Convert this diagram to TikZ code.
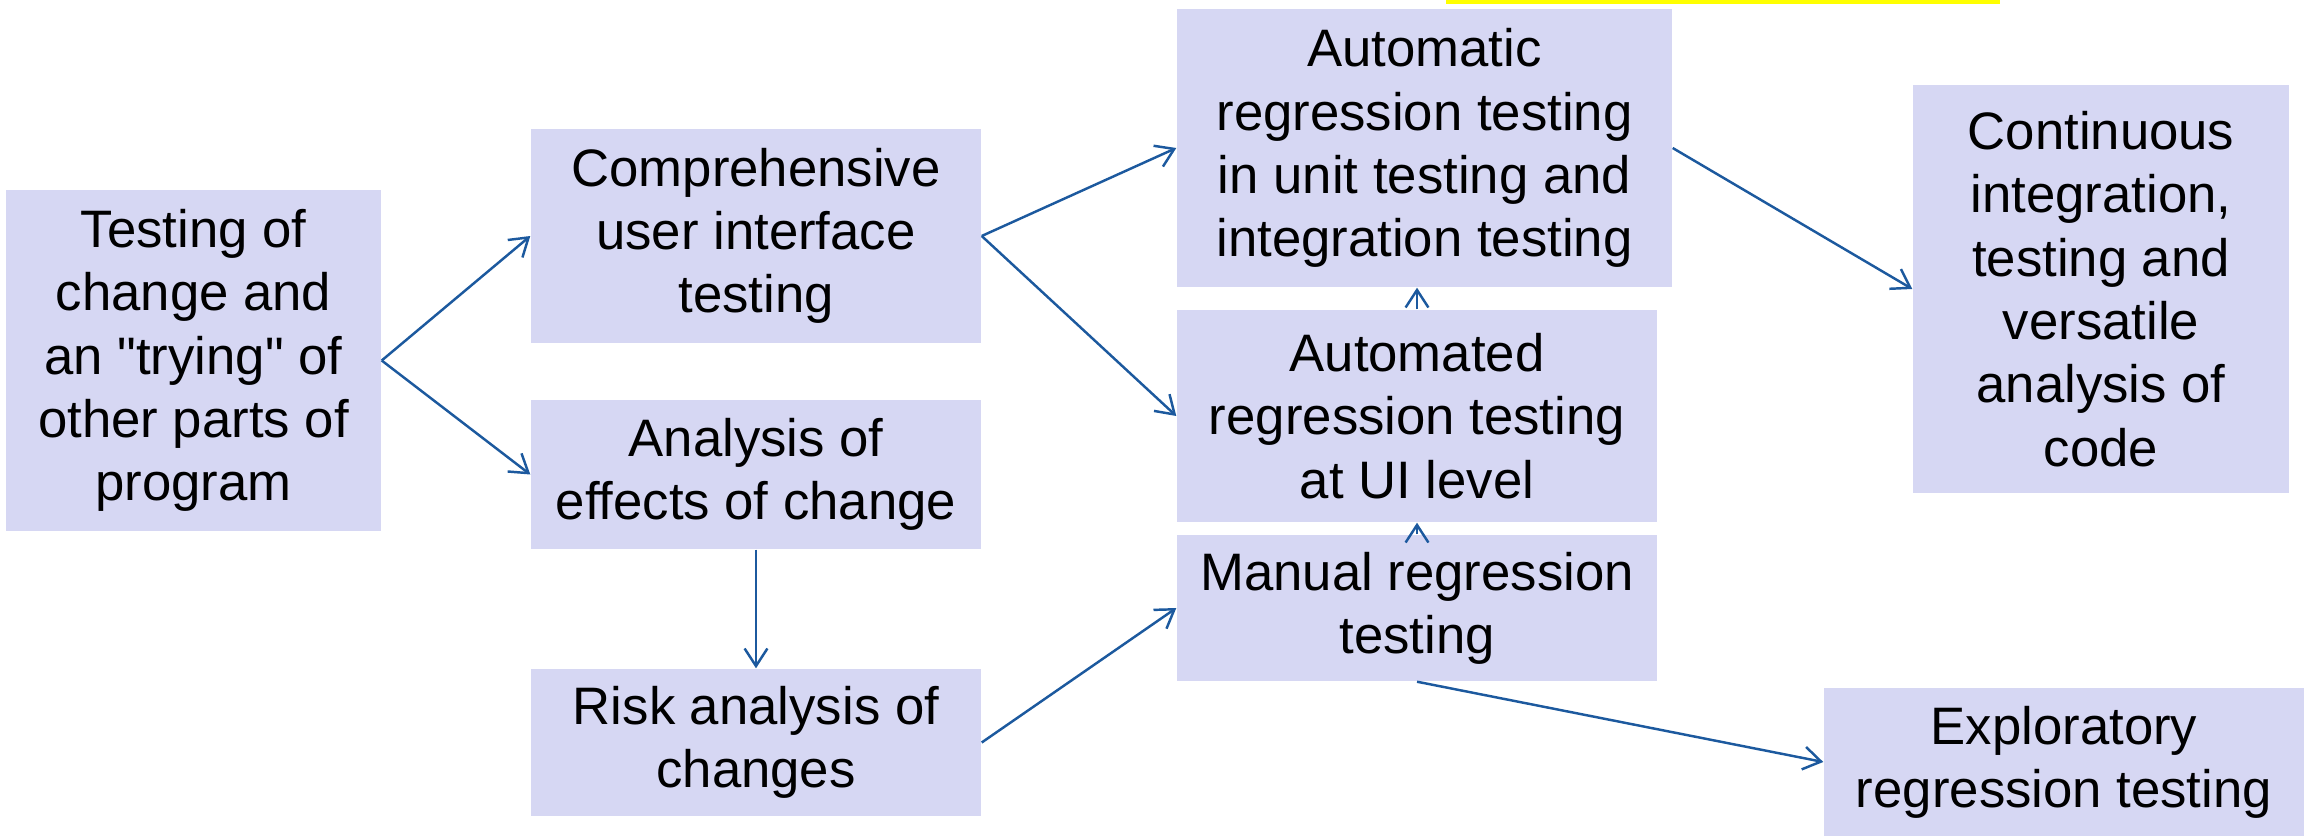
\documentclass[tikz,border=0pt]{standalone}
\usepackage{fontspec}
\setmainfont{Liberation Sans}[Ligatures=TeXOff]
\usepackage{xcolor}
\usepackage{tikz}
\usetikzlibrary{arrows.meta, positioning}

\definecolor{caixa}{RGB}{214,215,243}
\definecolor{seta}{RGB}{28,89,158}
\definecolor{marca}{RGB}{255,255,0}

\begin{document}
\begin{tikzpicture}[
    box/.style={rectangle, fill=caixa, inner sep=0pt, align=center, font=\fontsize{15}{18}\selectfont},
    flow/.style={draw=seta, line width=0.7pt, -{Straight Barb[length=5pt, width=6.5pt]}}
]
        \useasboundingbox (0,0) rectangle (23.06,8.36);
        % faixa amarela
        \fill[marca] (14.46,8.32) rectangle (20.00,8.36);

        % Coluna 1 e 2
        \node[box, minimum width=3.75cm, minimum height=3.41cm] (tc) at (1.935,4.755) {Testing of\\change and\\an "trying" of\\other parts of\\program};
        \node[box, minimum width=4.50cm, minimum height=2.14cm] (ui) at (7.56,6.00) {Comprehensive\\user interface\\testing};
        \node[box, minimum width=4.50cm, minimum height=1.49cm] (eff) at (7.56,3.615) {Analysis of\\effects of change};
        \node[box, minimum width=4.50cm, minimum height=1.47cm] (risk) at (7.56,0.935) {Risk analysis of\\changes};

        % Coluna 3
        \node[box, minimum width=4.95cm, minimum height=2.78cm] (unit) at (14.245,6.88) {Automatic\\regression testing\\in unit testing and\\integration testing};
        \node[box, minimum width=4.80cm, minimum height=2.12cm] (auto) at (14.17,4.20) {Automated\\regression testing\\at UI level};
        \node[box, minimum width=4.80cm, minimum height=1.46cm] (man) at (14.17,2.28) {Manual regression\\testing};

        % Coluna 4
        \node[box, minimum width=3.76cm, minimum height=4.08cm] (ci) at (21.01,5.47) {Continuous\\integration,\\testing and\\versatile\\analysis of\\code};
        \node[box, minimum width=4.80cm, minimum height=1.48cm] (expl) at (20.64,0.74) {Exploratory\\regression testing};

        % Setas
        \draw[flow] (tc.east) -- (ui.west);
        \draw[flow] (tc.east) -- (eff.west);
        \draw[flow] (eff.south) -- (risk.north);
        \draw[flow] (ui.east) -- (unit.west);
        \draw[flow] (ui.east) -- (auto.west);
        \draw[flow] (risk.east) -- (man.west);
        \draw[flow] (auto.north) -- (auto.north |- unit.south);
        \draw[flow] (man.north) -- (man.north |- auto.south);
        \draw[flow] (unit.east) -- (ci.west);
        \draw[flow] (man.south) -- (expl.west);
    \end{tikzpicture}
\end{document}
